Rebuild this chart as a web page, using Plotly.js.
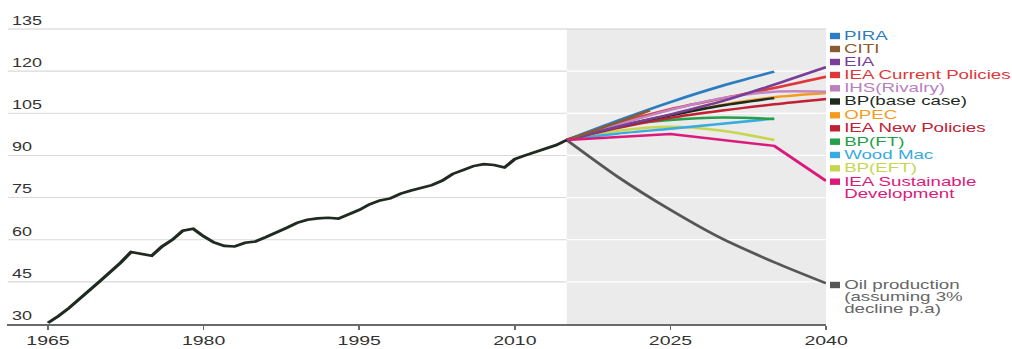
<!DOCTYPE html>
<html>
<head>
<meta charset="utf-8">
<script src="https://cdn.plot.ly/plotly-3.0.1.min.js"></script>
<style>
  html, body { margin: 0; padding: 0; background: #ffffff; }
  #wrap { width: 1012px; height: 349px; overflow: hidden; position: relative; }
  #plot { width: 675px; height: 349px; transform: scaleX(1.49926); transform-origin: 0 0; }
</style>
</head>
<body>
<div id="wrap"><div id="plot"></div></div>
<script>
// ---------------- DATA ----------------
const histYears = [1965,1966,1967,1968,1969,1970,1971,1972,1973,1974,1975,1976,1977,1978,1979,1980,
  1981,1982,1983,1984,1985,1986,1987,1988,1989,1990,1991,1992,1993,1994,1995,1996,1997,1998,1999,
  2000,2001,2002,2003,2004,2005,2006,2007,2008,2009,2010,2011,2012,2013,2014,2015];
const histDemand = [30.4,32.8,35.6,38.6,42.0,45.2,48.5,51.8,55.6,54.9,54.3,57.6,60.0,63.2,63.9,61.2,
  59.0,57.8,57.6,58.9,59.4,60.9,62.4,64.2,66.0,67.1,67.6,67.8,67.5,69.0,70.6,72.6,74.0,74.7,76.4,
  77.5,78.5,79.4,81.0,83.4,84.8,86.2,86.9,86.6,85.7,88.7,90.0,91.2,92.4,93.7,95.5];

const yearsTo2040 = [2015,2020,2025,2030,2035,2040];
const yearsTo2035 = [2015,2020,2025,2030,2035];
const yearsCiti   = [2015,2020,2023];
const yearsSD     = [2015,2025,2035,2040];

const pira      = [95.5,102.5,109.0,114.8,119.8];
const citi      = [95.5,101.9,106.0];
const eia       = [95.5,100.3,104.6,109.3,115.2,121.4];
const ieaCP     = [95.5,101.6,106.5,110.3,114.0,118.0];
const ihs       = [95.5,101.0,106.2,110.4,112.7,112.7];
const bpBase    = [95.5,100.3,104.3,107.8,110.4];
const opec      = [95.5,100.4,104.4,108.0,110.7,112.2];
const ieaNP     = [95.5,99.8,103.4,106.0,108.2,110.1];
const bpFT      = [95.5,100.6,102.6,103.5,103.0];
const woodMac   = [95.5,97.8,99.5,101.3,103.1];
const bpEFT     = [95.5,98.8,100.2,98.8,95.5];
const ieaSD     = [95.5,97.6,93.4,80.9];
const oilProd   = [95.5,82.2,70.6,60.3,52.0,44.5];

const xTicks = [1965,1980,1995,2010,2025,2040];
const yTicks = [30,45,60,75,90,105,120,135];

// ---------------- STYLE / LAYOUT ----------------
const S = 1012/675;
const ML = 5, MR = 124, MT = 0, MB = 25, W = 675, H = 349;
const PW = W - ML - MR, PH = H - MT - MB;
const pxX = xr => (xr / S - ML) / PW;      // reference pixel -> paper x
const pxY = yr => (PH + MT - yr) / PH;     // reference pixel -> paper y

const C = {
  hist: '#1f2b20', pira: '#2c7cc0', citi: '#8c5a2e', eia: '#7a3e96', ieaCP: '#e0383a',
  ihs: '#c286c4', bpBase: '#1d2b1e', opec: '#f39c1e', ieaNP: '#c22033', bpFT: '#24a04a',
  woodMac: '#38abdf', bpEFT: '#c8d64f', ieaSD: '#dc1a7c', oil: '#565656'
};

function ln(x, y, color, shape) {
  return { x: x, y: y, type: 'scatter', mode: 'lines', hoverinfo: 'skip', showlegend: false,
    line: { color: color, width: 2.5, shape: shape || 'spline', smoothing: 0.8 } };
}

const traces = [
  ln(yearsTo2040, oilProd, C.oil),
  ln(yearsTo2035, bpEFT, C.bpEFT),
  ln(yearsTo2035, woodMac, C.woodMac),
  ln(yearsTo2035, bpFT, C.bpFT),
  ln(yearsTo2040, ieaNP, C.ieaNP),
  ln(yearsTo2040, opec, C.opec),
  ln(yearsTo2035, bpBase, C.bpBase),
  ln(yearsTo2040, ieaCP, C.ieaCP),
  ln(yearsTo2040, ihs, C.ihs),
  ln(yearsTo2040, eia, C.eia),
  ln(yearsTo2035, pira, C.pira),
  ln(yearsCiti, citi, C.citi),
  ln(yearsSD, ieaSD, C.ieaSD, 'linear'),
  { x: histYears, y: histDemand, type: 'scatter', mode: 'lines', hoverinfo: 'skip', showlegend: false,
    line: { color: C.hist, width: 2.6 } }
];

// grid lines and shading as shapes
const xMin = 1961.1, xMax = 2040, shadeStart = 2015;
const shapes = [
  { type: 'rect', xref: 'x', yref: 'y', x0: shadeStart, x1: xMax, y0: 30, y1: 135,
    fillcolor: '#ebebeb', line: { width: 0 }, layer: 'below' }
];
yTicks.forEach(v => {
  if (v === 30) return;
  if (v === 135) {
    shapes.push({ type: 'line', xref: 'x', yref: 'y', x0: xMin, x1: xMax, y0: v, y1: v,
      line: { color: '#cfcfcf', width: 1.2 }, layer: 'below' });
  } else {
    shapes.push({ type: 'line', xref: 'x', yref: 'y', x0: xMin, x1: shadeStart, y0: v, y1: v,
      line: { color: '#d9d9d9', width: 1.1 }, layer: 'below' });
    shapes.push({ type: 'line', xref: 'x', yref: 'y', x0: shadeStart, x1: xMax, y0: v, y1: v,
      line: { color: '#ffffff', width: 1.3 }, layer: 'below' });
  }
});

// legend (custom)
const legendItems = [
  { lines: ['PIRA'], color: C.pira, y: [36] },
  { lines: ['CITI'], color: C.citi, y: [49] },
  { lines: ['EIA'], color: C.eia, y: [62] },
  { lines: ['IEA Current Policies'], color: C.ieaCP, y: [75] },
  { lines: ['IHS(Rivalry)'], color: '#b97fbf', y: [88.3] },
  { lines: ['BP(base case)'], color: C.bpBase, y: [101.5] },
  { lines: ['OPEC'], color: C.opec, y: [115.3] },
  { lines: ['IEA New Policies'], color: C.ieaNP, y: [128.3] },
  { lines: ['BP(FT)'], color: C.bpFT, y: [141.7] },
  { lines: ['Wood Mac'], color: C.woodMac, y: [155] },
  { lines: ['BP(EFT)'], color: C.bpEFT, y: [168.3] },
  { lines: ['IEA Sustainable', 'Development'], color: C.ieaSD, y: [181.7, 193.5] },
  { lines: ['Oil production', '(assuming 3%', 'decline p.a)'], color: '#666666', y: [285, 296.8, 308.6] }
];
const annotations = [];
legendItems.forEach(it => {
  shapes.push({ type: 'rect', xref: 'paper', yref: 'paper',
    x0: pxX(830), x1: pxX(840), y0: pxY(it.y[0] + 3.2), y1: pxY(it.y[0] - 3.2),
    fillcolor: it.color === '#666666' ? C.oil : it.color, line: { width: 0 }, layer: 'above' });
  it.lines.forEach((t, i) => {
    annotations.push({ text: t, xref: 'paper', yref: 'paper', x: pxX(842), y: pxY(it.y[i]),
      xanchor: 'left', yanchor: 'middle', showarrow: false, borderpad: 0,
      font: { family: 'Liberation Sans, Arial, sans-serif', size: 12.5, color: it.color } });
  });
});

const layout = {
  width: W, height: H,
  margin: { l: ML, r: MR, t: MT, b: MB, pad: 0 },
  paper_bgcolor: '#ffffff', plot_bgcolor: '#ffffff',
  font: { family: 'Liberation Sans, Arial, sans-serif', color: '#333333' },
  showlegend: false,
  xaxis: {
    range: [xMin, xMax], tickvals: xTicks, ticktext: xTicks.map(String),
    showgrid: false, zeroline: false, showline: true, linecolor: '#6a6a6a', linewidth: 1.6,
    ticks: 'outside', ticklen: 4, tickwidth: 1.2, tickcolor: '#6a6a6a',
    tickfont: { size: 13, color: '#333333' }, fixedrange: true
  },
  yaxis: {
    range: [30, 145.32], tickvals: yTicks, ticktext: yTicks.map(String),
    showgrid: false, zeroline: false, showline: false, ticks: '',
    ticklabelposition: 'inside top', tickfont: { size: 12, color: '#333333' }, fixedrange: true
  },
  shapes: shapes,
  annotations: annotations
};

Plotly.newPlot('plot', traces, layout, { staticPlot: true, displayModeBar: false });
</script>
</body>
</html>
